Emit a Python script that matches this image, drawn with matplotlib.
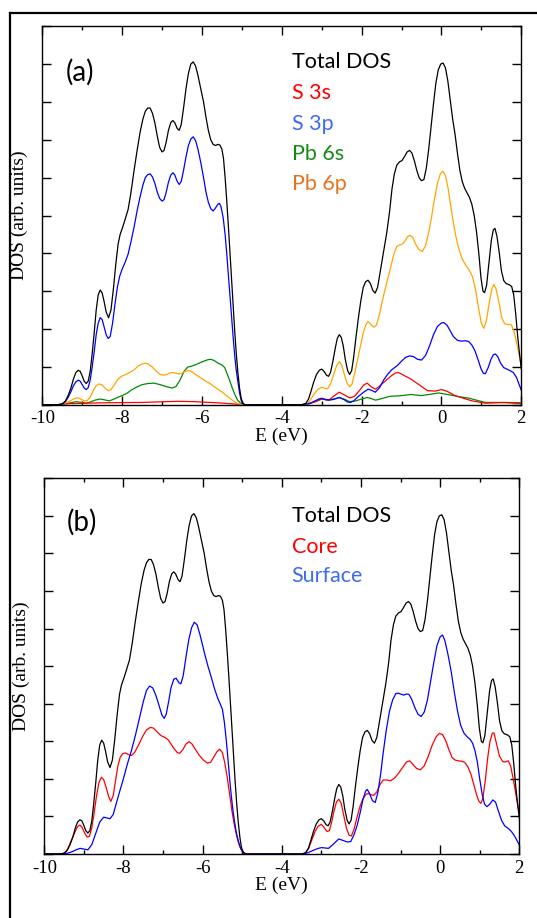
# PbS density of states: (a) orbital-projected, (b) core / surface split

import matplotlib.pyplot as plt
from matplotlib.lines import Line2D
from matplotlib.ticker import MultipleLocator

plt.rcParams['axes.unicode_minus'] = False

# ---------------- data (E in eV, DOS in arb. units) ----------------

total_E = [-10, -9.6, -9.5, -9.42, -9.35, -9.28, -9.22, -9.16, -9.1, -9.05, -9.0, -8.95,
           -8.9, -8.85, -8.8, -8.75, -8.7, -8.65, -8.6, -8.55, -8.5, -8.45, -8.4, -8.34,
           -8.28, -8.22, -8.16, -8.1, -8.05, -8.0, -7.93, -7.85, -7.78, -7.7, -7.62,
           -7.55, -7.48, -7.42, -7.36, -7.3, -7.24, -7.18, -7.12, -7.06, -7.0, -6.95,
           -6.9, -6.84, -6.78, -6.73, -6.68, -6.62, -6.57, -6.52, -6.46, -6.4, -6.34,
           -6.28, -6.22, -6.16, -6.1, -6.03, -5.96, -5.9, -5.84, -5.78, -5.72, -5.66,
           -5.6, -5.55, -5.5, -5.46, -5.42, -5.38, -5.34, -5.3, -5.26, -5.22, -5.18,
           -5.14, -5.1, -5.06, -5.02, -4.98, -4.93,
           -3.5, -3.4, -3.33, -3.27, -3.2, -3.13, -3.06, -3.0, -2.94, -2.88, -2.83,
           -2.78, -2.72, -2.66, -2.61, -2.56, -2.51, -2.46, -2.41, -2.35, -2.3, -2.25,
           -2.2, -2.14, -2.08, -2.02, -1.96, -1.9, -1.84, -1.78, -1.72, -1.66, -1.6,
           -1.52, -1.44, -1.37, -1.3, -1.24, -1.18, -1.12, -1.05, -0.99, -0.93, -0.86,
           -0.8, -0.74, -0.68, -0.62, -0.56, -0.5, -0.44, -0.38, -0.32, -0.26, -0.2,
           -0.14, -0.08, -0.02, 0.04, 0.1, 0.16, 0.22, 0.28, 0.34, 0.4, 0.46, 0.52,
           0.58, 0.64, 0.7, 0.76, 0.82, 0.88, 0.94, 0.99, 1.04, 1.08, 1.13, 1.19,
           1.25, 1.3, 1.34, 1.39, 1.45, 1.5, 1.56, 1.62, 1.7, 1.76, 1.81, 1.86, 1.91,
           1.96, 2.0]
total_dos = [0, 0, 0.02, 0.1, 0.25, 0.45, 0.68, 0.85, 0.91, 0.88, 0.76, 0.62,
             0.56, 0.62, 0.88, 1.35, 1.9, 2.5, 2.9, 3.03, 2.95, 2.72, 2.45, 2.3,
             2.5, 3.05, 3.7, 4.25, 4.5, 4.65, 4.88, 5.16, 5.6, 6.2, 6.75,
             7.2, 7.55, 7.75, 7.84, 7.84, 7.7, 7.45, 7.1, 6.8, 6.68, 6.72,
             6.92, 7.25, 7.46, 7.51, 7.45, 7.3, 7.25, 7.4, 7.85, 8.35, 8.75,
             9.0, 9.06, 8.95, 8.7, 8.35, 8.0, 7.6, 7.25, 7.0, 6.88, 6.85,
             6.88, 6.86, 6.75, 6.5, 6.0, 5.4, 4.75, 4.05, 3.35, 2.65, 1.95,
             1.35, 0.85, 0.45, 0.18, 0.05, 0,
             0, 0.03, 0.15, 0.35, 0.6, 0.8, 0.91, 0.94, 0.88, 0.78, 0.75,
             0.85, 1.15, 1.5, 1.75, 1.85, 1.78, 1.55, 1.2, 0.9, 0.8, 0.9,
             1.25, 1.8, 2.3, 2.75, 3.1, 3.25, 3.29, 3.2, 3.02, 2.95, 3.1,
             3.6, 4.1, 4.55, 5.1, 5.7, 6.1, 6.33, 6.42, 6.45, 6.55, 6.68,
             6.72, 6.65, 6.45, 6.2, 6.0, 5.92, 5.95, 6.25, 6.75, 7.35, 7.95,
             8.5, 8.85, 9.0, 9.03, 8.9, 8.55, 8.05, 7.55, 7.15, 6.65, 6.2, 5.9,
             5.72, 5.6, 5.48, 5.3, 5.0, 4.55, 3.95, 3.35, 3.0, 2.96, 3.15, 3.75,
             4.35, 4.62, 4.66, 4.45, 4.0, 3.55, 3.28, 3.2, 3.17, 3.12, 2.9, 2.4, 1.8,
             1.3, 0.95]

s3s_E = [-10, -9.6, -9.3, -8.5, -7.5, -6.6, -6.2, -5.6, -5.2, -5.0,
         -3.5, -3.3, -3.15, -3.0, -2.88, -2.8, -2.68, -2.56, -2.45, -2.3, -2.18,
         -2.05, -1.95, -1.86, -1.76, -1.65, -1.52, -1.38, -1.25, -1.15, -1.08, -0.95,
         -0.77, -0.55, -0.35, -0.15, 0.0, 0.15, 0.34, 0.55, 0.77, 1.1, 1.6, 2.0]
s3s_dos = [0, 0, 0.03, 0.05, 0.06, 0.09, 0.08, 0.05, 0.02, 0,
           0, 0.03, 0.08, 0.15, 0.13, 0.14, 0.24, 0.33, 0.27, 0.18, 0.22,
           0.38, 0.52, 0.57, 0.47, 0.41, 0.52, 0.65, 0.77, 0.84, 0.85, 0.78,
           0.68, 0.52, 0.37, 0.36, 0.4, 0.35, 0.24, 0.17, 0.1, 0.04, 0.06, 0.05]

s3p_E = [-10, -9.6, -9.5, -9.42, -9.35, -9.28, -9.22, -9.16, -9.1, -9.05, -9.0, -8.95,
         -8.9, -8.85, -8.8, -8.75, -8.7, -8.65, -8.6, -8.55, -8.5, -8.45, -8.4, -8.35,
         -8.3, -8.24, -8.18, -8.12, -8.06, -8.0, -7.93, -7.85, -7.78, -7.7, -7.62,
         -7.55, -7.48, -7.42, -7.36, -7.3, -7.24, -7.18, -7.12, -7.06, -7.0, -6.95,
         -6.9, -6.84, -6.78, -6.73, -6.68, -6.62, -6.57, -6.52, -6.46, -6.4, -6.34,
         -6.28, -6.22, -6.16, -6.1, -6.03, -5.96, -5.9, -5.84, -5.78, -5.72, -5.66,
         -5.6, -5.56, -5.52, -5.47, -5.42, -5.38, -5.34, -5.3, -5.26, -5.22, -5.18,
         -5.14, -5.1, -5.06, -5.02, -4.98, -4.93,
         -3.5, -3.35, -3.2, -3.08, -3.0, -2.9, -2.82, -2.7, -2.56, -2.45, -2.35,
         -2.28, -2.2, -2.08, -1.95, -1.84, -1.75, -1.66, -1.55, -1.45, -1.35, -1.25,
         -1.11, -1.0, -0.9, -0.8, -0.7, -0.6, -0.5, -0.4, -0.3, -0.2, -0.1, 0.0,
         0.06, 0.14, 0.22, 0.3, 0.4, 0.5, 0.6, 0.68, 0.76, 0.84, 0.92, 0.99, 1.05,
         1.1, 1.17, 1.24, 1.3, 1.35, 1.41, 1.48, 1.56, 1.64, 1.72, 1.8, 1.88, 1.95,
         2.0]
s3p_dos = [0, 0, 0.02, 0.08, 0.2, 0.35, 0.5, 0.6, 0.65, 0.62, 0.53, 0.44,
           0.4, 0.45, 0.65, 1.0, 1.4, 1.85, 2.15, 2.3, 2.25, 2.05, 1.85, 1.75,
           1.8, 2.15, 2.65, 3.1, 3.4, 3.58, 3.75, 3.98, 4.3, 4.7, 5.15,
           5.5, 5.8, 6.0, 6.08, 6.1, 6.02, 5.85, 5.62, 5.45, 5.38, 5.42,
           5.6, 5.88, 6.07, 6.13, 6.07, 5.9, 5.82, 5.9, 6.2, 6.55, 6.85,
           7.02, 7.08, 6.98, 6.75, 6.4, 6.0, 5.62, 5.35, 5.18, 5.12, 5.2,
           5.3, 5.32, 5.22, 4.95, 4.5, 4.0, 3.45, 2.9, 2.35, 1.8, 1.3,
           0.9, 0.6, 0.32, 0.12, 0.03, 0,
           0, 0.02, 0.08, 0.15, 0.17, 0.14, 0.12, 0.14, 0.19, 0.14, 0.07,
           0.06, 0.1, 0.22, 0.33, 0.41, 0.38, 0.33, 0.45, 0.65, 0.8, 0.92,
           1.03, 1.15, 1.25, 1.29, 1.27, 1.2, 1.18, 1.3, 1.55, 1.85, 2.07, 2.16,
           2.17, 2.1, 1.95, 1.8, 1.7, 1.68, 1.69, 1.67, 1.58, 1.42, 1.18, 0.95, 0.83,
           0.82, 0.98, 1.2, 1.32, 1.34, 1.27, 1.1, 0.98, 0.94, 0.9, 0.85, 0.72, 0.52,
           0.38]

pb6s_E = [-10, -9.6, -9.45, -9.3, -9.15, -9.0, -8.9, -8.8, -8.68, -8.55, -8.45, -8.32,
          -8.2, -8.1, -7.98, -7.88, -7.78, -7.65, -7.5, -7.35, -7.2, -7.05, -6.9,
          -6.75, -6.65, -6.55, -6.45, -6.36, -6.26, -6.15, -6.05, -5.95, -5.85, -5.78,
          -5.7, -5.6, -5.5, -5.43, -5.37, -5.3, -5.23, -5.16, -5.1, -5.03, -4.95,
          -3.5, -3.3, -3.15, -3.0, -2.85, -2.7, -2.56, -2.42, -2.3, -2.15, -2.0,
          -1.86, -1.75, -1.65, -1.5, -1.3, -1.0, -0.77, -0.5, -0.25, -0.07, 0.15,
          0.4, 0.7, 0.95, 1.1, 1.5, 2.0]
pb6s_dos = [0, 0, 0.02, 0.05, 0.08, 0.06, 0.04, 0.07, 0.12, 0.15, 0.13, 0.1,
            0.15, 0.2, 0.25, 0.3, 0.38, 0.46, 0.53, 0.56, 0.57, 0.53, 0.48,
            0.44, 0.48, 0.65, 0.88, 0.99, 1.02, 1.06, 1.11, 1.15, 1.19, 1.2,
            1.17, 1.1, 1.05, 0.98, 0.82, 0.62, 0.41, 0.23, 0.11, 0.04, 0,
            0, 0.03, 0.1, 0.15, 0.12, 0.15, 0.19, 0.14, 0.08, 0.1, 0.15,
            0.19, 0.16, 0.12, 0.16, 0.22, 0.24, 0.27, 0.24, 0.28, 0.31, 0.27,
            0.22, 0.17, 0.1, 0.06, 0.06, 0.03]

pb6p_E = [-10, -9.6, -9.45, -9.3, -9.2, -9.1, -9.02, -8.95, -8.88, -8.8, -8.72, -8.65,
          -8.58, -8.5, -8.42, -8.35, -8.28, -8.2, -8.1, -8.0, -7.9, -7.8, -7.7, -7.6,
          -7.5, -7.42, -7.34, -7.25, -7.15, -7.05, -6.96, -6.88, -6.8, -6.72, -6.64,
          -6.56, -6.48, -6.4, -6.32, -6.24, -6.15, -6.05, -5.92, -5.8, -5.7, -5.6,
          -5.49, -5.4, -5.3, -5.2, -5.1, -5.0,
          -3.5, -3.38, -3.3, -3.2, -3.1, -3.0, -2.92, -2.85, -2.78, -2.7, -2.63,
          -2.56, -2.5, -2.44, -2.37, -2.3, -2.24, -2.17, -2.1, -2.03, -1.96, -1.9,
          -1.84, -1.77, -1.7, -1.63, -1.55, -1.47, -1.37, -1.28, -1.2, -1.12, -1.05,
          -0.99, -0.92, -0.85, -0.79, -0.72, -0.65, -0.57, -0.48, -0.4, -0.32, -0.25,
          -0.18, -0.1, -0.03, 0.04, 0.1, 0.17, 0.24, 0.3, 0.36, 0.44, 0.52, 0.6, 0.7,
          0.78, 0.86, 0.93, 1.0, 1.06, 1.12, 1.19, 1.26, 1.31, 1.37, 1.44, 1.51,
          1.58, 1.66, 1.74, 1.8, 1.86, 1.92, 2.0]
pb6p_dos = [0, 0, 0.03, 0.1, 0.16, 0.18, 0.14, 0.1, 0.11, 0.2, 0.38, 0.5,
            0.55, 0.52, 0.43, 0.37, 0.4, 0.52, 0.68, 0.76, 0.8, 0.86, 0.92, 1.02,
            1.08, 1.1, 1.07, 1.0, 0.89, 0.8, 0.78, 0.8, 0.84, 0.85, 0.83,
            0.81, 0.85, 0.89, 0.9, 0.86, 0.79, 0.72, 0.63, 0.56, 0.48, 0.41,
            0.33, 0.25, 0.17, 0.09, 0.03, 0,
            0, 0.02, 0.1, 0.27, 0.4, 0.46, 0.43, 0.42, 0.55, 0.8, 1.02,
            1.14, 1.05, 0.82, 0.58, 0.47, 0.55, 0.85, 1.2, 1.56, 1.9, 2.1,
            2.2, 2.12, 2.05, 2.1, 2.4, 2.8, 3.23, 3.6, 3.95, 4.18, 4.22,
            4.24, 4.32, 4.44, 4.48, 4.42, 4.25, 4.1, 4.05, 4.2, 4.55, 4.95,
            5.4, 5.85, 6.1, 6.17, 6.05, 5.7, 5.2, 4.8, 4.45, 4.1, 3.85, 3.7, 3.55,
            3.38, 3.0, 2.55, 2.15, 2.02, 2.2, 2.65, 3.05, 3.18, 3.05, 2.7, 2.3,
            2.14, 2.12, 2.12, 2.0, 1.75, 1.45, 1.03]

core_E = [-10, -9.55, -9.45, -9.38, -9.3, -9.22, -9.16, -9.1, -9.04, -8.98, -8.92, -8.86,
          -8.8, -8.74, -8.68, -8.62, -8.56, -8.5, -8.44, -8.38, -8.32, -8.26, -8.2,
          -8.14, -8.08, -8.02, -7.95, -7.88, -7.8, -7.72, -7.62, -7.52, -7.42, -7.32,
          -7.24, -7.15, -7.05, -6.95, -6.87, -6.8, -6.72, -6.64, -6.58, -6.5, -6.42,
          -6.34, -6.27, -6.18, -6.08, -5.98, -5.88, -5.8, -5.72, -5.64, -5.57, -5.5,
          -5.44, -5.38, -5.32, -5.26, -5.2, -5.14, -5.08, -5.02, -4.96, -4.9,
          -3.5, -3.4, -3.32, -3.24, -3.16, -3.08, -3.0, -2.93, -2.86, -2.8, -2.74,
          -2.68, -2.62, -2.56, -2.5, -2.44, -2.37, -2.3, -2.24, -2.17, -2.1, -2.02,
          -1.95, -1.88, -1.82, -1.75, -1.68, -1.6, -1.52, -1.44, -1.35, -1.25, -1.15,
          -1.05, -0.95, -0.85, -0.77, -0.7, -0.6, -0.5, -0.4, -0.3, -0.2, -0.1, -0.02,
          0.06, 0.14, 0.22, 0.3, 0.38, 0.46, 0.54, 0.62, 0.7, 0.78, 0.85, 0.92, 0.98,
          1.03, 1.08, 1.14, 1.2, 1.26, 1.32, 1.36, 1.42, 1.5, 1.58, 1.65, 1.72, 1.78,
          1.85, 1.92, 2.0]
core_dos = [0, 0, 0.06, 0.2, 0.4, 0.6, 0.73, 0.77, 0.7, 0.56, 0.45, 0.47,
            0.7, 1.1, 1.55, 1.9, 2.04, 1.98, 1.78, 1.55, 1.4, 1.55, 1.95,
            2.35, 2.58, 2.67, 2.69, 2.65, 2.62, 2.7, 2.9, 3.12, 3.3, 3.37,
            3.35, 3.25, 3.15, 3.1, 3.04, 2.93, 2.8, 2.7, 2.68, 2.78, 2.93,
            2.99, 2.93, 2.78, 2.62, 2.5, 2.42, 2.44, 2.58, 2.72, 2.79, 2.7,
            2.42, 2.05, 1.6, 1.15, 0.78, 0.48, 0.25, 0.1, 0.03, 0,
            0, 0.03, 0.15, 0.38, 0.6, 0.74, 0.79, 0.7, 0.6, 0.62, 0.85,
            1.15, 1.38, 1.46, 1.35, 1.05, 0.7, 0.5, 0.48, 0.68, 0.98, 1.28,
            1.47, 1.58, 1.61, 1.58, 1.56, 1.65, 1.85, 1.97, 1.97, 1.95, 2.02,
            2.15, 2.3, 2.45, 2.48, 2.4, 2.28, 2.24, 2.35, 2.6, 2.9, 3.12, 3.21,
            3.18, 3.02, 2.78, 2.57, 2.5, 2.48, 2.47, 2.44, 2.32, 2.12, 1.85, 1.58, 1.4,
            1.35, 1.48, 1.95, 2.55, 3.0, 3.22, 3.22, 2.95, 2.6, 2.46, 2.45, 2.48, 2.35,
            1.98, 1.55, 1.08]

surf_E = [-10, -9.6, -9.45, -9.3, -9.18, -9.09, -9.0, -8.9, -8.8, -8.7, -8.6, -8.5,
          -8.42, -8.34, -8.26, -8.18, -8.1, -8.01, -7.9, -7.8, -7.7, -7.6, -7.5,
          -7.42, -7.34, -7.26, -7.18, -7.1, -7.03, -6.97, -6.92, -6.86, -6.8, -6.73,
          -6.67, -6.6, -6.55, -6.49, -6.42, -6.35, -6.28, -6.21, -6.14, -6.07, -6.0,
          -5.93, -5.86, -5.78, -5.7, -5.62, -5.55, -5.5, -5.45, -5.4, -5.35, -5.3,
          -5.25, -5.2, -5.15, -5.1, -5.04, -4.98, -4.9,
          -3.5, -3.35, -3.2, -3.08, -2.99, -2.9, -2.82, -2.7, -2.56, -2.45, -2.35,
          -2.26, -2.18, -2.1, -2.02, -1.95, -1.88, -1.84, -1.78, -1.71, -1.64, -1.57,
          -1.5, -1.44, -1.36, -1.28, -1.2, -1.12, -1.05, -0.98, -0.92, -0.85, -0.79,
          -0.72, -0.64, -0.56, -0.48, -0.4, -0.32, -0.24, -0.16, -0.08, 0.0, 0.06,
          0.12, 0.2, 0.28, 0.36, 0.44, 0.52, 0.6, 0.68, 0.76, 0.82, 0.88, 0.94, 1.0,
          1.06, 1.12, 1.18, 1.25, 1.33, 1.4, 1.47, 1.55, 1.63, 1.72, 1.8, 1.88, 1.95,
          2.0]
surf_dos = [0, 0, 0.01, 0.06, 0.12, 0.15, 0.13, 0.11, 0.25, 0.55, 0.85, 0.98,
            0.96, 0.94, 1.05, 1.35, 1.65, 1.97, 2.4, 2.75, 3.15, 3.6, 4.05,
            4.35, 4.47, 4.42, 4.22, 3.95, 3.7, 3.61, 3.72, 4.05, 4.42, 4.65,
            4.68, 4.56, 4.53, 4.75, 5.25, 5.7, 6.02, 6.17, 6.1, 5.85, 5.55,
            5.25, 4.98, 4.7, 4.4, 4.15, 3.98, 3.85, 3.5, 3.0, 2.4, 1.8,
            1.3, 0.9, 0.58, 0.35, 0.15, 0.05, 0,
            0, 0.03, 0.1, 0.15, 0.17, 0.16, 0.15, 0.26, 0.4, 0.36, 0.32,
            0.33, 0.5, 0.75, 1.1, 1.45, 1.68, 1.72, 1.6, 1.42, 1.37, 1.65,
            2.15, 2.68, 3.3, 3.8, 4.1, 4.27, 4.28, 4.25, 4.23, 4.26, 4.25,
            4.12, 3.9, 3.72, 3.66, 3.78, 4.1, 4.6, 5.1, 5.55, 5.78, 5.83,
            5.68, 5.3, 4.85, 4.3, 3.8, 3.42, 3.22, 3.12, 3.05, 2.95, 2.75, 2.45, 2.0,
            1.6, 1.33, 1.26, 1.32, 1.44, 1.38, 1.15, 0.9, 0.75, 0.68, 0.6, 0.48, 0.34,
            0.24]

labels_a = ['Total DOS', 'S 3s', 'S 3p', 'Pb 6s', 'Pb 6p']
labels_b = ['Total DOS', 'Core', 'Surface']

# ---------------- styling ----------------

W, H = 537, 918
SERIF = 'Liberation Serif'
SANS = 'Lato'

BLACK, RED, BLUE, GREEN, ORANGE = 'black', '#ff0000', '#0000ff', '#008b00', '#ffa500'
TXT_BLUE, TXT_GREEN, TXT_ORANGE = '#3c6cf0', '#158a15', '#e8731e'

fig = plt.figure(figsize=(W / 100, H / 100), dpi=100)

# thick frame around the whole figure (runs off the right and bottom edges)
x0, y0 = 9.5 / W, 1 - 12.7 / H
fig.add_artist(Line2D([x0, x0], [-0.01, y0], transform=fig.transFigure, color='black', lw=1.6))
fig.add_artist(Line2D([x0, 1.01], [y0, y0], transform=fig.transFigure, color='black', lw=1.6))


def make_axes(left, top, right, bottom):
    ax = fig.add_axes([left / W, 1 - bottom / H, (right - left) / W, (bottom - top) / H])
    ax.set_xlim(-10, 2)
    ax.set_ylim(0, 10)
    ax.xaxis.set_major_locator(MultipleLocator(2))
    ax.xaxis.set_minor_locator(MultipleLocator(1))
    ax.yaxis.set_major_locator(MultipleLocator(1))
    ax.tick_params(which='both', direction='in', top=True, right=True, width=1)
    ax.tick_params(which='major', length=6.5, pad=4, labelsize=13.5)
    ax.tick_params(which='minor', length=3.2)
    ax.tick_params(axis='y', labelleft=False)
    for lab in ax.get_xticklabels():
        lab.set_fontfamily(SERIF)
    for sp in ax.spines.values():
        sp.set_linewidth(1.0)
    ax.set_xlabel('E (eV)', fontsize=14, fontfamily=SERIF, labelpad=0)
    ax.set_ylabel('DOS (arb. units)', fontsize=14, fontfamily=SERIF)
    return ax


lw = 0.9

# (a) orbital-projected DOS
ax1 = make_axes(42.3, 26.3, 521.3, 404.7)
ax1.yaxis.set_label_coords((28 - 42.3) / 479, 0.5)
ax1.plot(pb6s_E, pb6s_dos, color=GREEN, lw=lw)
ax1.plot(s3s_E, s3s_dos, color=RED, lw=lw)
ax1.plot(pb6p_E, pb6p_dos, color=ORANGE, lw=lw)
ax1.plot(s3p_E, s3p_dos, color=BLUE, lw=lw)
ax1.plot(total_E, total_dos, color=BLACK, lw=lw)

ax1.text(0.0495, 0.857, '(a)', transform=ax1.transAxes, fontsize=20,
         fontfamily=SANS, va='baseline')
for lab, col, yb in zip(labels_a, [BLACK, RED, TXT_BLUE, TXT_GREEN, TXT_ORANGE],
                        [0.889, 0.808, 0.726, 0.647, 0.567]):
    ax1.text(0.522, yb, lab, transform=ax1.transAxes, color=col, fontsize=15.5,
             fontfamily=SANS, va='baseline')

# (b) core vs surface contributions
ax2 = make_axes(44.3, 478.3, 519.3, 854.0)
ax2.yaxis.set_label_coords((30.5 - 44.3) / 475, 0.5)
ax2.plot(core_E, core_dos, color=RED, lw=lw)
ax2.plot(surf_E, surf_dos, color=BLUE, lw=lw)
ax2.plot(total_E, total_dos, color=BLACK, lw=lw)

ax2.text(0.0474, 0.8605, '(b)', transform=ax2.transAxes, fontsize=20,
         fontfamily=SANS, va='baseline')
for lab, col, yb in zip(labels_b, [BLACK, RED, TXT_BLUE], [0.8845, 0.802, 0.723]):
    ax2.text(0.521, yb, lab, transform=ax2.transAxes, color=col, fontsize=15.5,
             fontfamily=SANS, va='baseline')

fig.savefig('out.png', dpi=100)
